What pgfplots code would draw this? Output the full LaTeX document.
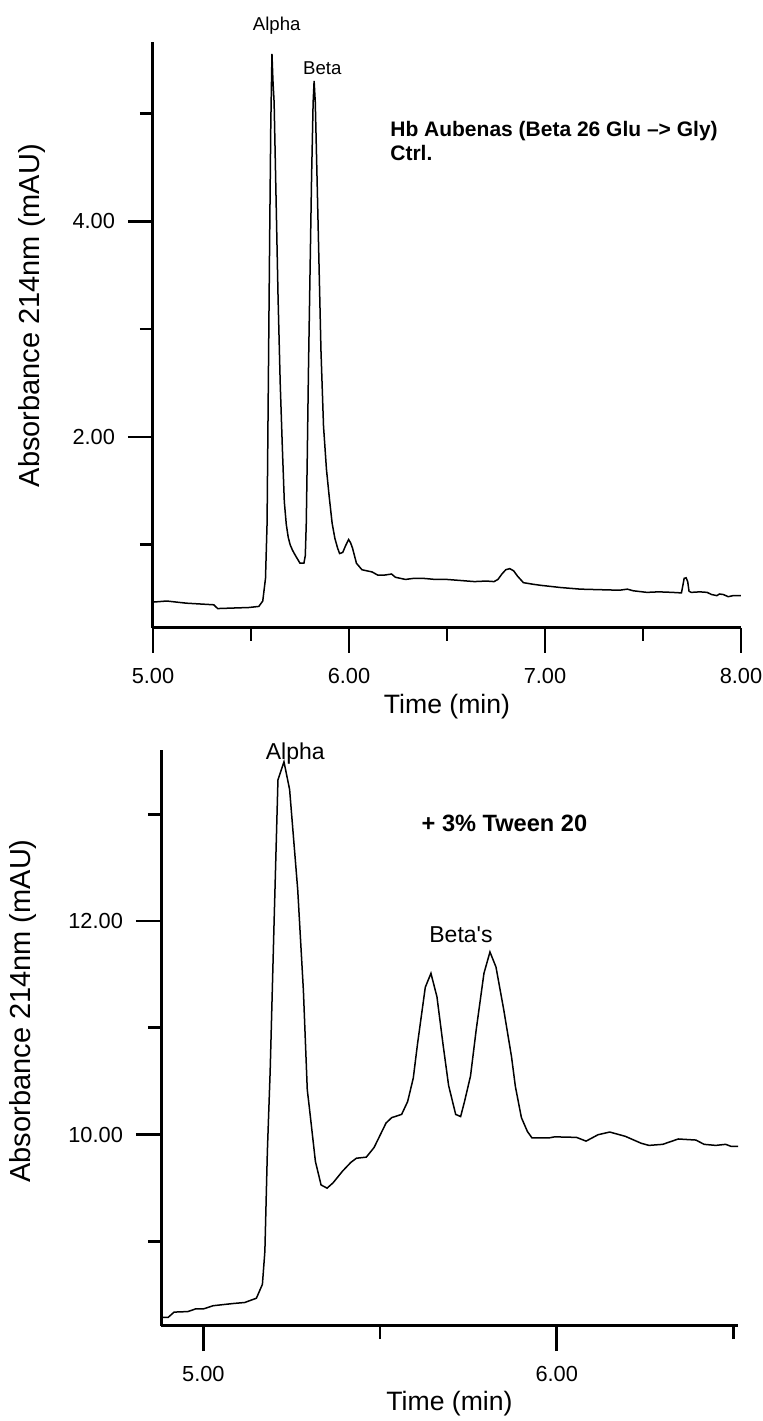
\documentclass[border=0pt]{standalone}
\usepackage{fontspec}
\setmainfont{Liberation Sans}
\usepackage{pgfplots}
\pgfplotsset{compat=1.18}

% shared look of both chromatogram panels
\pgfplotsset{
  chrom/.style={
    scale only axis,
    axis x line*=bottom,
    axis y line*=left,
    axis line style={line width=1.5pt},
    tick style={black, line width=1.4pt},
    tick align=outside,
    major tick length=12.5pt,
    minor tick length=6.5pt,
    tick label style={font=\fontsize{10.9}{13}\selectfont},
    yticklabel style={xshift=-3pt},
    xticklabel style={yshift=-4pt},
    label style={font=\fontsize{14.5}{16}\selectfont},
    clip=false,
  },
  trace/.style={black, line width=0.75pt, mark=none},
}

\begin{document}
\begin{tikzpicture}
\useasboundingbox (0,0) rectangle (381.5pt,710.5pt);

% ---------------- top panel: control ----------------
\begin{axis}[chrom,
  at={(76.5pt,396.5pt)}, anchor=south west,
  width=294pt, height=293pt,
  xmin=5, xmax=8, ymin=0.23, ymax=5.66,
  xtick={5,6,7,8}, xticklabels={5.00,6.00,7.00,8.00},
  minor xtick={5.5,6.5,7.5},
  ytick={2,4}, yticklabels={2.00,4.00},
  minor ytick={1,3,5},
  xlabel={Time (min)},
  ylabel={Absorbance 214nm (mAU)},
  x label style={at={(axis description cs:0.5,-0.134)}, anchor=center,
                 font=\fontsize{13.3}{15}\selectfont},
  y label style={at={(axis description cs:-0.206,0.533)}, anchor=center},
]
\addplot[trace] coordinates {
  (5.00,0.47) (5.07,0.48) (5.17,0.46) (5.31,0.445) (5.33,0.41) (5.49,0.42)
  (5.54,0.43) (5.56,0.48) (5.574,0.69) (5.582,1.2) (5.589,2.6) (5.595,3.8)
  (5.601,4.9) (5.607,5.55) (5.612,5.3) (5.618,5.1) (5.628,4.2) (5.638,3.3)
  (5.649,2.5) (5.660,1.9) (5.670,1.4) (5.680,1.19) (5.690,1.07) (5.700,1.0)
  (5.712,0.95) (5.724,0.91) (5.737,0.87) (5.750,0.83) (5.770,0.83) (5.777,0.9)
  (5.782,1.2) (5.787,1.8) (5.793,2.6) (5.801,3.5) (5.809,4.4) (5.817,5.1)
  (5.822,5.30) (5.828,5.1) (5.837,4.4) (5.847,3.6) (5.857,2.8) (5.870,2.1)
  (5.885,1.7) (5.900,1.43) (5.914,1.2) (5.928,1.06) (5.942,0.97) (5.952,0.92)
  (5.968,0.93) (5.982,0.99) (5.998,1.05) (6.008,1.02) (6.018,0.97) (6.038,0.83)
  (6.066,0.77) (6.09,0.76) (6.117,0.75) (6.147,0.72) (6.18,0.72) (6.217,0.73)
  (6.237,0.70) (6.288,0.68) (6.33,0.69) (6.378,0.69) (6.44,0.68) (6.499,0.68)
  (6.57,0.67) (6.64,0.66) (6.70,0.665) (6.74,0.66) (6.76,0.68) (6.78,0.73)
  (6.80,0.77) (6.82,0.78) (6.84,0.76) (6.86,0.71) (6.89,0.65) (6.94,0.635)
  (6.98,0.625) (7.08,0.605) (7.18,0.59) (7.28,0.585) (7.38,0.58) (7.42,0.59)
  (7.45,0.575) (7.52,0.56) (7.58,0.565) (7.65,0.56) (7.696,0.555) (7.703,0.62)
  (7.71,0.69) (7.72,0.695) (7.728,0.66) (7.735,0.57) (7.746,0.56) (7.79,0.565)
  (7.827,0.56) (7.85,0.54) (7.877,0.53) (7.89,0.545) (7.91,0.54) (7.935,0.52)
  (7.96,0.53) (8.00,0.53)
};
\node[font=\fontsize{9.3}{11}\selectfont] at (axis cs:5.631,5.815) {Alpha};
\node[font=\fontsize{9.3}{11}\selectfont] at (axis cs:5.864,5.42) {Beta};
\node[anchor=west, inner sep=0pt, align=left,
      font=\bfseries\fontsize{10.5}{12}\selectfont]
  at (axis cs:6.209,4.743) {Hb Aubenas (Beta 26 Glu --> Gly)\\Ctrl.};
\end{axis}

% ---------------- bottom panel: + Tween 20 ----------------
\begin{axis}[chrom,
  at={(80.5pt,47.5pt)}, anchor=south west,
  width=288.5pt, height=288pt,
  xmin=4.88, xmax=6.513, ymin=8.21, ymax=13.6,
  xtick={5,6}, xticklabels={5.00,6.00},
  minor xtick={5.5,6.5},
  ytick={10,12}, yticklabels={10.00,12.00},
  minor ytick={9,11,13},
  xlabel={Time (min)},
  ylabel={Absorbance 214nm (mAU)},
  x label style={at={(axis description cs:0.5,-0.134)}, anchor=center,
                 font=\fontsize{13.3}{15}\selectfont},
  y label style={at={(axis description cs:-0.239,0.547)}, anchor=center},
]
\addplot[trace] coordinates {
  (4.883,8.29) (4.90,8.29) (4.917,8.34) (4.956,8.345) (4.978,8.37) (5.0,8.37)
  (5.028,8.40) (5.083,8.42) (5.117,8.43) (5.15,8.47) (5.167,8.60) (5.174,8.91)
  (5.181,9.84) (5.189,10.6) (5.2,11.98) (5.211,13.32) (5.228,13.49) (5.244,13.23)
  (5.267,12.29) (5.283,11.35) (5.294,10.42) (5.3,10.25) (5.317,9.75) (5.333,9.53)
  (5.35,9.50) (5.367,9.55) (5.394,9.66) (5.417,9.74) (5.433,9.78) (5.461,9.79)
  (5.483,9.88) (5.517,10.11) (5.533,10.16) (5.561,10.19) (5.578,10.31)
  (5.594,10.53) (5.606,10.85) (5.628,11.38) (5.644,11.51) (5.661,11.29)
  (5.678,10.85) (5.694,10.46) (5.714,10.19) (5.728,10.17) (5.739,10.31)
  (5.756,10.55) (5.772,10.98) (5.794,11.51) (5.811,11.71) (5.828,11.57)
  (5.85,11.17) (5.872,10.73) (5.883,10.45) (5.9,10.16) (5.917,10.03) (5.93,9.97)
  (5.978,9.97) (5.994,9.98) (6.056,9.975) (6.083,9.94) (6.117,10.0) (6.15,10.025)
  (6.194,9.985) (6.239,9.92) (6.261,9.90) (6.3,9.91) (6.344,9.96) (6.394,9.95)
  (6.417,9.91) (6.45,9.90) (6.478,9.91) (6.494,9.89) (6.513,9.89)
};
\node[font=\fontsize{11.5}{13}\selectfont] at (axis cs:5.26,13.57) {Alpha};
\node[font=\fontsize{11.5}{13}\selectfont] at (axis cs:5.729,11.87) {Beta\textquotesingle s};
\node[font=\bfseries\fontsize{11.8}{14}\selectfont] at (axis cs:5.852,12.91) {+ 3\% Tween 20};
\end{axis}
\end{tikzpicture}
\end{document}
